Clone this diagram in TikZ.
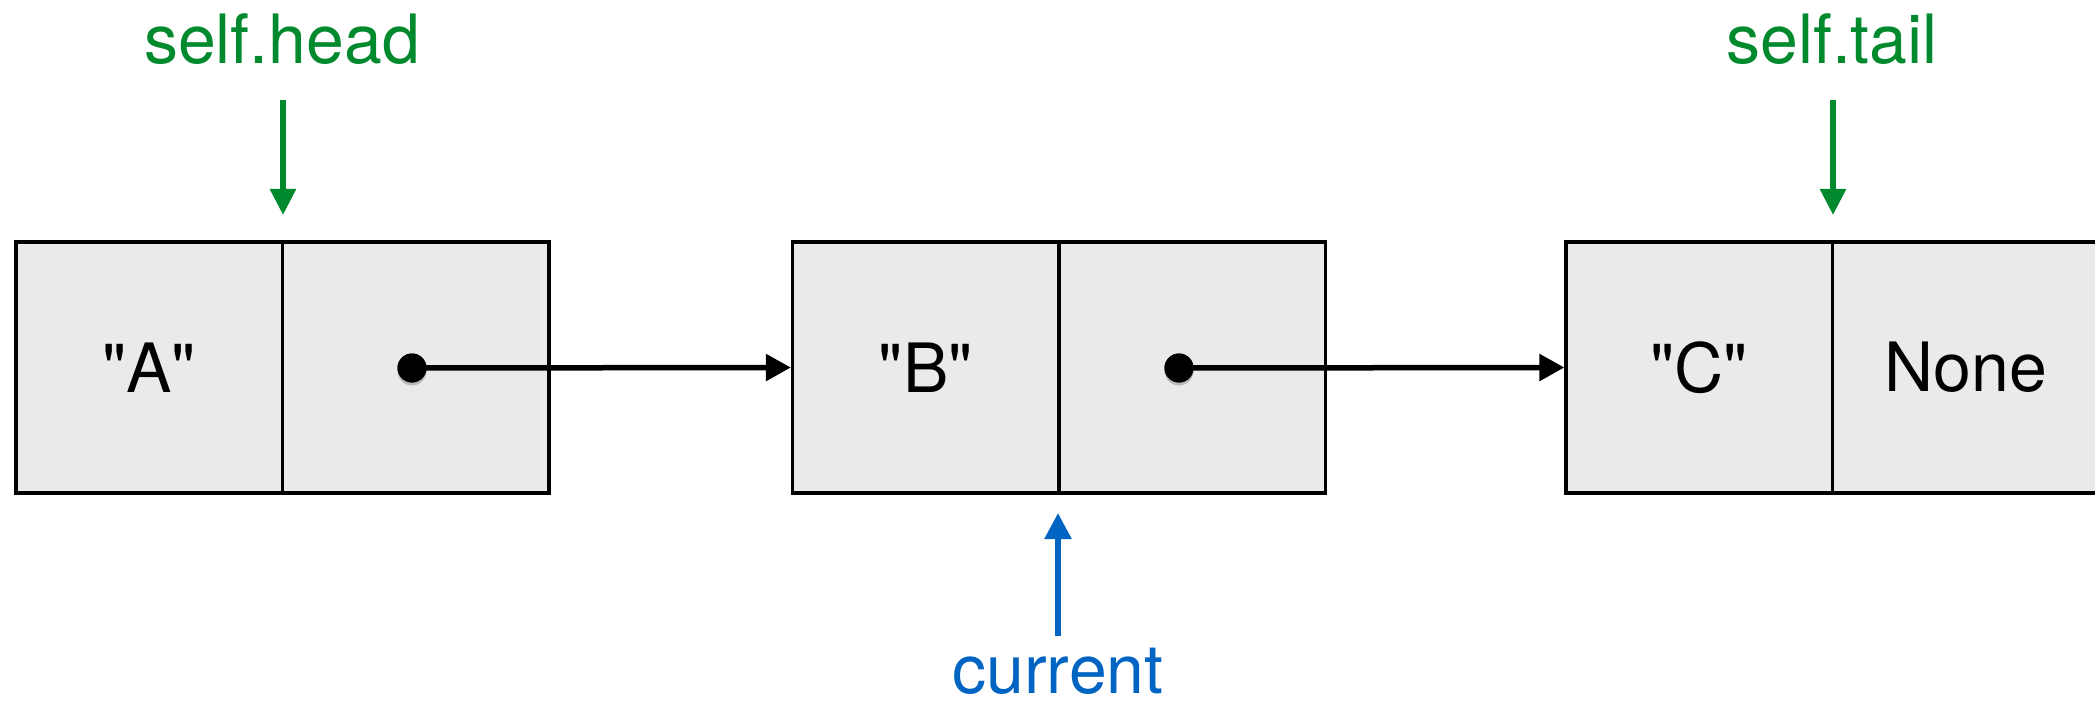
\documentclass[tikz,border=0pt]{standalone}
\usepackage{fontspec}
\setmainfont{TeX Gyre Heros}[Ligatures=TeXOff]
\usetikzlibrary{arrows.meta,shadows}
\definecolor{cellfill}{RGB}{234,234,234}
\definecolor{lblgreen}{RGB}{0,137,45}
\definecolor{lblblue}{RGB}{0,100,194}
\tikzset{
  cell/.style={draw=black, fill=cellfill, line width=3.2bp, rectangle, inner sep=0pt,
    minimum width=266.5bp, minimum height=251bp, font=\fontsize{68bp}{80bp}\selectfont},
  ptr/.style={circle, fill=black, inner sep=0pt, minimum size=29bp,
    drop shadow={opacity=0.25, shadow xshift=0bp, shadow yshift=-3bp}},
  link/.style={line width=5.5bp, -{Triangle[length=25bp,width=26bp]}},
  lbl/.style={anchor=base, inner sep=0pt, font=\fontsize{68bp}{80bp}\selectfont},
  gptr/.style={line width=5.5bp, draw=lblgreen, -{Triangle[length=26bp,width=25bp]}},
  bptr/.style={line width=5.5bp, draw=lblblue, -{Triangle[length=26bp,width=26bp]}}
}
\begin{document}
\begin{tikzpicture}[x=1bp,y=-1bp]
\useasboundingbox (0,0) rectangle (2095,707);
% nodes
\node[cell] (al) at (149.25,367.5) {"A"};
\node[cell] (ar) at (415.75,367.5) {};
\node[cell] (bl) at (925.75,367.5) {"B"};
\node[cell] (br) at (1192.25,367.5) {};
\node[cell] (cl) at (1699.25,367.5) {"C"};
\node[cell] (cr) at (1965.75,367.5) {None};
% pointers
\node[ptr] (da) at (412,368) {};
\node[ptr] (db) at (1179,368) {};
\draw[link] (da.center) -- (bl.west);
\draw[link] (db.center) -- (cl.west);
\node[ptr] at (412,368) {};
\node[ptr] at (1179,368) {};
% labels
\node[lbl, text=lblgreen] (head) at (282,64) {self.head};
\node[lbl, text=lblgreen] (tail) at (1832,64) {self.tail};
\node[lbl, text=lblblue] (cur) at (1058,693) {current};
\coordinate (hs) at (283,100);
\coordinate (he) at (283,215);
\coordinate (ts) at (1833,100);
\coordinate (te) at (1833,215);
\coordinate (cs) at (1058,636);
\coordinate (ce) at (1058,513);
\draw[gptr] (hs) -- (he);
\draw[gptr] (ts) -- (te);
\draw[bptr] (cs) -- (ce);
\end{tikzpicture}
\end{document}
